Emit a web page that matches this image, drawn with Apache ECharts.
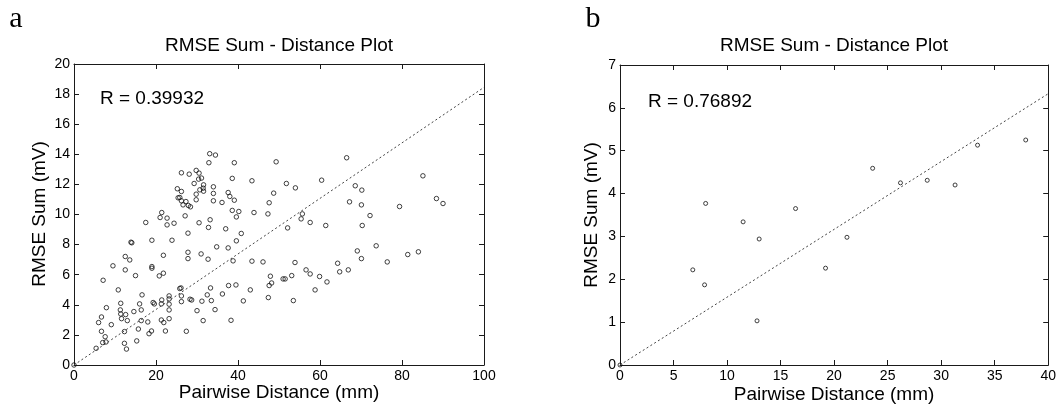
<!DOCTYPE html>
<html><head><meta charset="utf-8">
<script src="https://cdn.jsdelivr.net/npm/echarts@6/dist/echarts.min.js"></script>
<style>html,body{margin:0;padding:0;background:#fff}#c{width:1059px;height:410px}</style>
</head><body><div id="c"></div>
<script>
// Panel a: [pairwise distance (mm), RMSE sum (mV)]
const pointsA = [
[0,0],
[5.4,1.11],[6.0,2.82],[6.7,3.19],[6.7,2.24],[7.1,5.63],[7.0,1.49],[7.6,1.88],[7.8,1.53],[7.9,3.81],[9.1,2.68],[9.5,6.59],[10.8,4.99],[11.4,4.10],[11.3,3.66],[11.4,3.39],[11.6,3.08],[12.5,7.21],[12.5,6.32],[12.3,2.22],[12.3,1.44],[12.6,3.35],[12.8,1.06],[13.0,2.95],[13.6,6.98],[13.9,8.16],[14.1,8.12],[14.6,3.55],[15.0,5.94],[15.3,1.60],[15.7,2.39],[16.0,4.06],[16.4,3.66],[16.4,2.95],[16.6,4.66],[17.5,9.47],[18.0,2.86],[18.3,2.08],[19.0,8.29],[19.0,6.54],[19.0,6.43],[18.9,2.26],[19.3,4.15],[19.6,4.06],[20.8,5.92],[21.0,9.80],[21.4,10.13],[21.3,2.99],[21.4,4.32],[21.3,4.06],[21.8,7.29],[21.8,6.10],[21.9,2.82],[22.3,2.26],[22.7,9.76],[22.7,9.31],[23.2,4.59],[23.2,4.39],[23.2,4.04],[23.2,3.66],[23.2,3.08],[23.9,8.29],[24.4,9.42],[25.2,11.71],[25.4,11.11],[25.8,11.13],[26.2,12.77],[26.2,11.53],[26.2,10.91],[26.1,5.12],[26.2,4.59],[26.2,4.21],[25.8,5.08],[26.6,10.64],[27.1,9.91],[27.3,10.86],[27.4,2.24],[27.8,8.76],[27.8,7.49],[27.8,7.07],[27.9,10.60],[28.1,12.68],[28.4,10.51],[28.3,4.37],[28.7,4.32],[29.3,12.06],[29.8,12.93],[29.8,10.98],[29.8,11.35],[30.0,3.61],[30.4,12.35],[30.5,12.75],[30.5,9.45],[30.7,11.64],[31.0,7.38],[31.1,12.42],[31.2,4.24],[31.5,2.95],[31.6,11.55],[31.6,11.97],[31.5,11.75],[32.9,13.44],[32.8,9.14],[32.7,7.03],[32.5,4.66],[33.1,14.04],[33.2,9.65],[33.3,5.12],[33.5,4.28],[34.0,11.84],[34.0,11.40],[34.0,10.91],[34.4,3.68],[34.5,13.95],[34.8,7.85],[36.1,10.80],[36.2,4.72],[37.0,9.05],[37.6,7.78],[37.7,5.28],[37.6,11.46],[38.0,11.20],[38.3,2.97],[38.6,12.40],[38.6,10.27],[38.8,6.92],[39.1,13.44],[39.1,10.95],[39.5,5.32],[39.6,9.84],[39.6,8.25],[40.2,10.20],[40.8,8.74],[41.3,4.26],[43.0,4.99],[43.4,6.90],[43.4,12.24],[43.9,10.13],[46.1,6.85],[47.3,10.04],[47.4,4.48],[47.6,10.78],[47.6,5.28],[47.9,5.90],[48.2,5.45],[48.7,11.42],[49.3,13.50],[51.0,5.72],[51.5,5.72],[51.8,12.06],[52.1,9.11],[53.1,5.94],[53.5,4.28],[53.9,6.81],[54.0,11.77],[55.4,9.71],[55.7,10.04],[56.6,6.32],[57.6,9.47],[57.6,6.05],[58.8,4.99],[59.9,5.88],[60.4,12.28],[61.4,9.27],[61.7,5.52],[64.3,6.76],[64.8,6.19],[66.5,13.77],[66.9,6.32],[67.2,10.84],[68.6,11.91],[69.1,7.58],[70.1,10.64],[70.2,11.62],[70.3,9.27],[70.1,7.07],[72.2,9.93],[73.7,7.92],[76.4,6.85],[79.4,10.53],[81.4,7.34],[84.0,7.52],[85.1,12.57],[88.4,11.06],[90.0,10.73]
];
const fitA = [[0,0],[100,18.45]];
const labelA = 'R = 0.39932';

// Panel b
const pointsB = [
[0,0],[6.8,2.22],[7.9,1.87],[8.0,3.77],[11.5,3.34],[13.0,2.94],[12.8,1.03],[16.4,3.65],[19.2,2.26],[21.2,2.98],[23.6,4.59],[26.2,4.25],[28.7,4.31],[31.3,4.20],[33.4,5.13],[37.9,5.25]
];
const fitB = [[0,0],[40,6.33]];
const labelB = 'R = 0.76892';

const titleText = 'RMSE Sum - Distance Plot';
const xName = 'Pairwise Distance (mm)';
const yName = 'RMSE Sum (mV)';

const FONT = "'Liberation Sans', Arial, sans-serif";
const AX = '#1a1a1a';
const grids = [
  {left:74, top:64, width:410, height:301},
  {left:620, top:65, width:429, height:300}
];
function ax(gi, max, interval, pos, show){
  return {type:'value', gridIndex:gi, min:0, max:max, interval:interval, position:pos,
    axisLine:{show:true, onZero:false, lineStyle:{color:AX, width:1}},
    axisTick:{show:true, inside:true, length:5, lineStyle:{color:AX}},
    axisLabel:{show:show, color:'#000', fontFamily:FONT, fontSize:14, margin:4},
    splitLine:{show:false}};
}
function scatterStyle(size){
  return {symbol:'circle', symbolSize:size, itemStyle:{color:'rgba(255,255,255,0)', borderColor:'#111', borderWidth:1}};
}
function txt(x,y,text,size,align,rot,family){
  return {type:'text', x:x, y:y, rotation:rot||0,
    style:{text:text, font:size+'px '+(family||FONT), fill:'#000', textAlign:align, textVerticalAlign:'middle'}};
}
const option = {
  animation:false,
  grid: grids,
  xAxis:[ax(0,100,20,'bottom',true), ax(0,100,20,'top',false), ax(1,40,5,'bottom',true), ax(1,40,5,'top',false)],
  yAxis:[ax(0,20,2,'left',true), ax(0,20,2,'right',false), ax(1,7,1,'left',true), ax(1,7,1,'right',false)],
  series:[
    {type:'line', xAxisIndex:0, yAxisIndex:0, data:fitA, symbol:'none', lineStyle:{color:'#444', width:1, type:[2,2.5]}},
    Object.assign({type:'scatter', xAxisIndex:0, yAxisIndex:0, data:pointsA}, scatterStyle(4.5)),
    {type:'line', xAxisIndex:2, yAxisIndex:2, data:fitB, symbol:'none', lineStyle:{color:'#444', width:1, type:[2,2.5]}},
    Object.assign({type:'scatter', xAxisIndex:2, yAxisIndex:2, data:pointsB}, scatterStyle(4))
  ],
  graphic:[
    txt(16,19,'a',30,'center',0,"'Liberation Serif', 'Times New Roman', serif"),
    txt(593,19,'b',30,'center',0,"'Liberation Serif', 'Times New Roman', serif"),
    txt(279,46,titleText,19,'center'),
    txt(834,46,titleText,19,'center'),
    txt(100,99,labelA,19,'left'),
    txt(648,102,labelB,19,'left'),
    txt(279,393,xName,19,'center'),
    txt(834,395,xName,19,'center'),
    txt(40,214,yName,19,'center',Math.PI/2),
    txt(592,215,yName,19,'center',Math.PI/2)
  ]
};
echarts.init(document.getElementById('c')).setOption(option);
</script></body></html>
